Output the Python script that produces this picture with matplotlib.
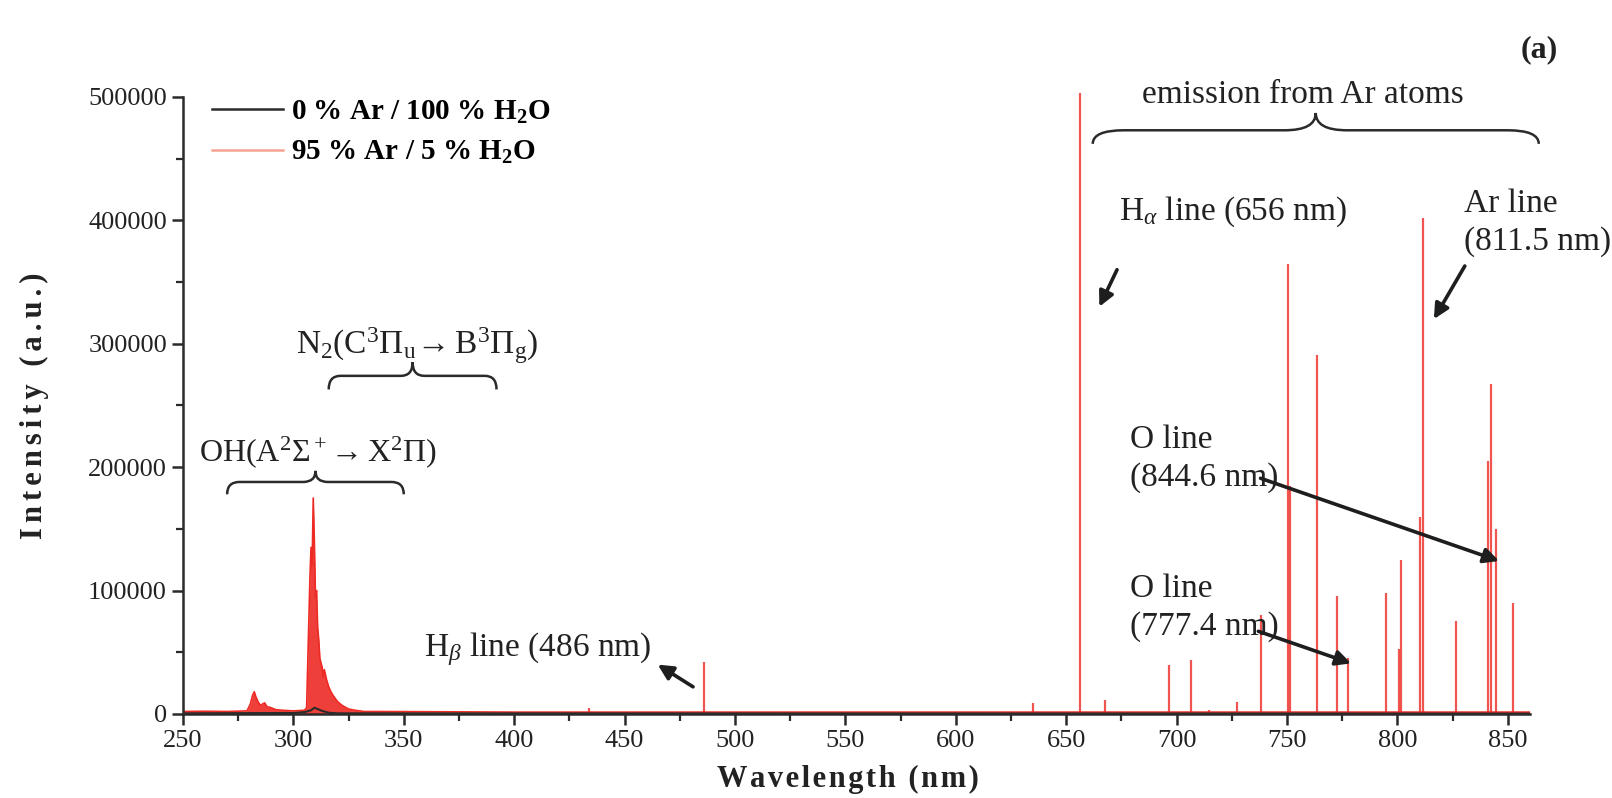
import numpy as np
import matplotlib
matplotlib.use('Agg')
import matplotlib.pyplot as plt
from matplotlib.path import Path
from matplotlib.patches import PathPatch
from matplotlib.ticker import MultipleLocator

plt.rcParams['font.family'] = ['Liberation Serif', 'DejaVu Serif']
plt.rcParams['mathtext.fontset'] = 'custom'
plt.rcParams['mathtext.rm'] = 'Liberation Serif'
plt.rcParams['mathtext.it'] = 'Liberation Serif:italic'
plt.rcParams['mathtext.bf'] = 'Liberation Serif:bold'

# ---- data ----
# 95 % Ar / 5 % H2O : continuum + OH band (nm, a.u.)
red_band_nm = [250, 260, 270, 279, 280.5, 281.5, 282.3, 283, 284, 285, 287, 288, 290, 292, 295,
               300, 305, 306, 306.5, 307, 307.5, 308, 308.5, 309, 309.5, 310, 310.5, 311, 311.5,
               312, 313, 313.5, 314, 315, 316, 317, 318, 320, 322, 325, 328, 332, 340, 400, 500,
               600, 700, 860]
red_band_int = [2000, 2200, 2000, 2500, 8000, 15000, 18000, 14000, 10000, 7000, 9000, 6000, 5000,
                3500, 3000, 2500, 3000, 5000, 40000, 75000, 110000, 135000, 120000, 175000, 140000,
                95000, 100000, 70000, 60000, 45000, 38000, 30000, 36000, 28000, 22000, 18000, 15000,
                10000, 7000, 4000, 3000, 2000, 2000, 1500, 1500, 1500, 1500, 1500]

# atomic emission lines of the 95 % Ar spectrum
line_nm = [434.0, 486.1, 635.0, 656.3, 667.7, 696.5, 706.7, 714.7, 727.3, 738.4, 750.4, 751.5,
           763.5, 772.4, 777.4, 794.8, 800.6, 801.5, 810.4, 811.5, 826.4, 840.8, 842.5, 844.6,
           852.1]
line_int = [5000, 42000, 9000, 503000, 11000, 40000, 44000, 3000, 10000, 80000, 365000, 185000,
            291000, 96000, 45000, 98000, 53000, 125000, 160000, 402000, 75000, 205000, 267000,
            150000, 90000]

# 0 % Ar / 100 % H2O
black_nm = [250, 300, 305, 308, 309.5, 311, 313, 316, 320, 860]
black_int = [500, 800, 1500, 3000, 5000, 4000, 2500, 1000, 500, 300]

RED = '#ee2a24'
DARK = '#2b2b2b'
TXT = '#222222'

fig = plt.figure(figsize=(16.12, 7.98), dpi=100)
ax = fig.add_axes([0.1135, 0.1053, 0.8356, 0.7732])

ax.fill_between(red_band_nm, 0, red_band_int, color=RED, lw=0, alpha=0.9)
ax.plot(red_band_nm, red_band_int, color=RED, lw=1.2)
ax.vlines(line_nm, 1500, line_int, color=RED, lw=1.6, alpha=0.8, clip_on=False)
ax.plot(black_nm, black_int, color=DARK, lw=1.5)

# legend
ax.plot([], [], color=DARK, lw=1.8, label=r'0 % Ar / 100 % H$_\mathbf{2}$O')
ax.plot([], [], color='#f6a394', lw=1.8, label=r'95 % Ar / 5 % H$_\mathbf{2}$O')
leg = ax.legend(loc='upper left', bbox_to_anchor=(0.002, 1.04), frameon=False,
                handlelength=2.45, handletextpad=0.25, labelspacing=0.45,
                prop={'weight': 'bold', 'size': 21})

ax.set_xlim(250, 860)
ax.set_ylim(0, 500000)
ax.xaxis.set_major_locator(MultipleLocator(50))
ax.xaxis.set_minor_locator(MultipleLocator(25))
ax.yaxis.set_major_locator(MultipleLocator(100000))
ax.yaxis.set_minor_locator(MultipleLocator(50000))
for s in ['top', 'right']:
    ax.spines[s].set_visible(False)
for s in ['left', 'bottom']:
    ax.spines[s].set_linewidth(1.8)
    ax.spines[s].set_color(DARK)
ax.tick_params(which='major', direction='out', length=8, width=1.8, color=DARK,
               labelsize=19, labelcolor=TXT)
ax.tick_params(which='minor', direction='out', length=5, width=1.6, color=DARK)


def spaced(s, gap):
    return gap.join(s)


ax.set_xlabel(spaced('Wavelength (nm)', '\u200a'), fontsize=22, fontweight='bold',
              labelpad=9, color=TXT)
ax.xaxis.label.set_x(0.494)
ax.set_ylabel(spaced('Intensity (a.u.)', '\u200a\u200a'), fontsize=22, fontweight='bold',
              labelpad=28, color=TXT)


def brace(x0, x1, y_end, y_bar, y_tip):
    xm = (x0 + x1) / 2
    d = 0.07 * (x1 - x0)
    verts = [(x0, y_end), (x0, y_bar), (x0 + d, y_bar),
             (xm - d, y_bar),
             (xm, y_bar), (xm, y_tip),
             (xm, y_bar), (xm + d, y_bar),
             (x1 - d, y_bar),
             (x1, y_bar), (x1, y_end)]
    codes = [Path.MOVETO, Path.CURVE3, Path.CURVE3, Path.LINETO, Path.CURVE3, Path.CURVE3,
             Path.CURVE3, Path.CURVE3, Path.LINETO, Path.CURVE3, Path.CURVE3]
    ax.add_patch(PathPatch(Path(verts, codes), fill=False, lw=1.8, color=DARK, clip_on=False))


tfs = 24
brace(270, 350, 178000, 188000, 197000)
ax.text(311, 212000, r'OH(A$^2\Sigma^+\!\rightarrow$X$^2\Pi$)', ha='center', va='center',
        fontsize=23, color=TXT)
brace(316, 392, 263000, 274000, 285000)
ax.text(356, 298000, r'N$_2$(C$^3\Pi_\mathrm{u}\!\rightarrow$B$^3\Pi_\mathrm{g}$)', ha='center',
        va='center', fontsize=tfs, color=TXT)
brace(662, 864, 462000, 473000, 487000)
ax.text(757, 502000, 'emission from Ar atoms', ha='center', va='center', fontsize=tfs,
        color=TXT, clip_on=False)

arrow = dict(arrowstyle='-|>,head_length=0.9,head_width=0.45', lw=2.6, color='#1e1e1e',
             shrinkA=0, shrinkB=0)
ax.text(674, 407000, r'H$_\alpha$ line (656 nm)', ha='left', va='center', fontsize=tfs,
        color=TXT)
ax.annotate('', xy=(665, 330000), xytext=(673, 360000), arrowprops=arrow)
ax.text(830, 398000, 'Ar line\n(811.5 nm)', ha='left', va='center', fontsize=tfs,
        color=TXT, linespacing=1.3)
ax.annotate('', xy=(816.5, 320000), xytext=(830.5, 363000), arrowprops=arrow)
ax.text(679, 207000, 'O line\n(844.6 nm)', ha='left', va='center', fontsize=tfs,
        color=TXT, linespacing=1.3)
ax.annotate('', xy=(846, 124000), xytext=(738, 191000), arrowprops=arrow)
ax.text(679, 86000, 'O line\n(777.4 nm)', ha='left', va='center', fontsize=tfs,
        color=TXT, linespacing=1.3)
ax.annotate('', xy=(779, 41000), xytext=(737, 67000), arrowprops=arrow)
ax.text(359, 53000, r'H$_\beta$ line (486 nm)', ha='left', va='center', fontsize=tfs,
        color=TXT)
ax.annotate('', xy=(465, 40000), xytext=(481, 22000), arrowprops=arrow)

fig.text(0.955, 0.938, '(a)', ha='center', va='center', fontsize=23, fontweight='bold',
         color=TXT)

fig.savefig('out.png', dpi=100)
